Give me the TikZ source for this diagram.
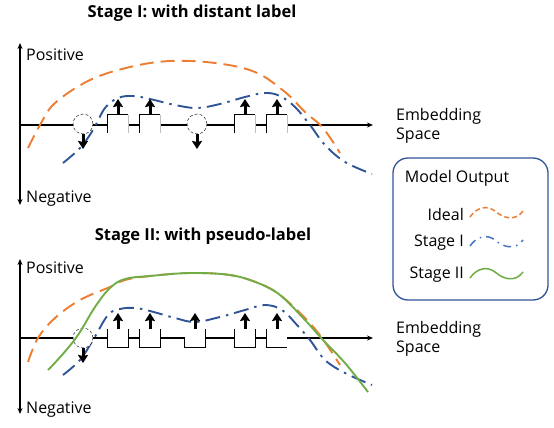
\documentclass[tikz,border=0pt]{standalone}
\usepackage{fontspec}
\setmainfont{Open Sans}
\usepackage{tikz}
\usetikzlibrary{arrows.meta,positioning}
\definecolor{idealorange}{HTML}{ED7D31}
\definecolor{stageblue}{HTML}{2F5597}
\definecolor{legblue}{HTML}{4472C4}
\definecolor{stagegreen}{HTML}{70AD47}

\begin{document}
\begin{tikzpicture}[x=1pt,y=-1pt,>=Stealth,font=\fontsize{16}{19}\selectfont]
	\tikzstyle{every node}=[align=center,inner sep=0pt]
	\tikzstyle{axis}=[line width=1.4pt,{Stealth[length=6pt,width=5pt]}-{Stealth[length=6pt,width=5pt]}]
	\tikzstyle{haxis}=[line width=1.4pt,-{Stealth[length=6pt,width=5pt]}]
	\tikzstyle{title}=[font=\fontsize{16.5}{19}\selectfont\bfseries]
	\tikzstyle{sample}=[circle,minimum size=20pt,draw,densely dashed,thin,fill=white]
	\tikzstyle{bag}=[minimum width=20pt,minimum height=18pt,fill=white]
	\tikzstyle{edge}=[line width=1.1pt]
	\tikzstyle{uparr}=[line width=3pt,-{Stealth[length=8pt,width=10pt,inset=1pt]}]
	\tikzstyle{ideal}=[idealorange,line width=1.9pt,dash pattern=on 14pt off 7pt]
	\tikzstyle{stageone}=[stageblue,line width=1.9pt,dash pattern=on 15pt off 6pt on 2.5pt off 6pt]
	\tikzstyle{stagetwo}=[stagegreen,line width=1.9pt]
	\useasboundingbox (0,0) rectangle (554,428);

	% Stage I
	\node[title] (t1) at (192,13) {Stage I: with distant label};
	\coordinate (v1top) at (20,43);
	\coordinate (v1bot) at (20,205);
	\coordinate (h1l) at (20,125);
	\coordinate (h1r) at (373,125);
	\draw[axis] (v1bot) -- (v1top);
	\draw[haxis] (h1l) -- (h1r);
	\node[anchor=west] (pos1) at (26,55) {Positive};
	\node[anchor=west] (neg1) at (26,199) {Negative};
	\node[anchor=west,align=left] (emb1) at (396,126) {Embedding\\Space};

	\draw[ideal] plot[smooth,tension=0.6] coordinates {(28,148) (40,125) (55,103) (90,80) (130,67) (170,61) (215,63) (255,72) (285,92) (305,112) (323,128) (340,153)};
	\draw[stageone] plot[smooth,tension=0.6] coordinates {(63,163) (80,148) (93,130) (105,108) (118,98) (133,96) (150,99) (175,105) (197,108) (220,104) (245,97) (265,93) (280,96) (295,107) (310,125) (325,145) (345,162) (372,174)};

	\node[sample] (c1a) at (83,124) {};
	\node[sample] (c2a) at (197,124) {};
	\node[bag] (b1a) at (118,124) {};
	\node[bag] (b2a) at (150,124) {};
	\node[bag] (b3a) at (245,124) {};
	\node[bag] (b4a) at (277,124) {};
	\draw[edge] (b1a.south west) -- (b1a.north west) -- (b1a.north east);
	\draw[edge,gray!50] (b1a.north east) -- (b1a.south east);
	\draw[edge] (b2a.south west) -- (b2a.north west) -- (b2a.north east);
	\draw[edge,gray!50] (b2a.north east) -- (b2a.south east);
	\draw[edge] (b3a.south west) -- (b3a.north west) -- (b3a.north east);
	\draw[edge,gray!50] (b3a.north east) -- (b3a.south east);
	\draw[edge] (b4a.south west) -- (b4a.north west) -- (b4a.north east);
	\draw[edge,gray!50] (b4a.north east) -- (b4a.south east);

	\coordinate (u1a) at (118,99);
	\coordinate (u2a) at (150,99);
	\coordinate (u3a) at (245,99);
	\coordinate (u4a) at (277,99);
	\coordinate (d1a) at (83,149);
	\coordinate (d2a) at (197,149);
	\draw[uparr] (b1a) -- (u1a);
	\draw[uparr] (b2a) -- (u2a);
	\draw[uparr] (b3a) -- (u3a);
	\draw[uparr] (b4a) -- (u4a);
	\draw[uparr] (c1a) -- (d1a);
	\draw[uparr] (c2a) -- (d2a);

	% Stage II
	\node[title] (t2) at (203,236) {Stage II: with pseudo-label};
	\coordinate (v2top) at (20,259);
	\coordinate (v2bot) at (20,414);
	\coordinate (h2l) at (20,338);
	\coordinate (h2r) at (373,338);
	\draw[axis] (v2bot) -- (v2top);
	\draw[haxis] (h2l) -- (h2r);
	\node[anchor=west] (pos2) at (26,268) {Positive};
	\node[anchor=west] (neg2) at (26,410) {Negative};
	\node[anchor=west,align=left] (emb2) at (396,339) {Embedding\\Space};

	\draw[ideal] plot[smooth,tension=0.6] coordinates {(28,362) (38,338) (55,318) (80,300) (110,287) (125,280) (150,276) (190,273) (230,275) (258,283) (280,295) (305,318) (322,338) (340,365)};
	\draw[stageone] plot[smooth,tension=0.6] coordinates {(63,375) (80,360) (93,340) (108,315) (120,309) (135,308) (150,311) (175,318) (195,322) (220,317) (245,310) (265,305) (282,310) (297,325) (310,340) (325,360) (345,373) (372,385)};

	\node[sample] (c1b) at (83,338) {};
	\node[bag] (b1b) at (118,338) {};
	\node[bag] (b2b) at (150,338) {};
	\node[bag] (b3b) at (195,338) {};
	\node[bag] (b4b) at (245,338) {};
	\node[bag] (b5b) at (277,338) {};
	\draw[edge] (b1b.north west) -- (b1b.south west) -- (b1b.south east) -- (b1b.north east);
	\draw[edge] (b2b.north west) -- (b2b.south west) -- (b2b.south east) -- (b2b.north east);
	\draw[edge] (b3b.west) -- (b3b.south west) -- (b3b.south east) -- (b3b.north east);
	\draw[edge] (b4b.north west) -- (b4b.south west) -- (b4b.south east) -- (b4b.north east);
	\draw[edge] (b5b.north west) -- (b5b.south west) -- (b5b.south east);

	\draw[stagetwo] plot[smooth,tension=0.6] coordinates {(48,370) (62,355) (78,335) (95,307) (110,288) (125,279) (150,276) (190,273) (230,275) (258,283) (280,295) (305,320) (323,340) (345,363) (368,392)};

	\coordinate (u1b) at (118,313);
	\coordinate (u2b) at (150,313);
	\coordinate (u3b) at (195,313);
	\coordinate (u4b) at (245,313);
	\coordinate (u5b) at (277,313);
	\coordinate (d1b) at (83,363);
	\draw[uparr] (b1b) -- (u1b);
	\draw[uparr] (b2b) -- (u2b);
	\draw[uparr] (b3b) -- (u3b);
	\draw[uparr] (b4b) -- (u4b);
	\draw[uparr] (b5b) -- (u5b);
	\draw[uparr] (c1b) -- (d1b);

	% legend
	\node[draw=stageblue,line width=1.3pt,rounded corners=15pt,minimum width=155pt,minimum height=142pt] (leg) at (470.5,229) {};
	\node (legtitle) at (457,178) {Model Output};
	\node[anchor=east] (lideal) at (464,214) {Ideal};
	\node[anchor=east] (lone) at (464,243) {Stage I};
	\node[anchor=east] (ltwo) at (464,275) {Stage II};
	\draw[ideal,dash pattern=on 5pt off 3pt,line width=1.5pt] (470,217) .. controls (477,207) and (487,205) .. (495,211) .. controls (503,218) and (515,222) .. (523,211);
	\draw[stageone,legblue,dash pattern=on 8pt off 5pt on 1.5pt off 5pt,line width=1.5pt] (470,246) .. controls (477,236) and (487,234) .. (495,240) .. controls (503,247) and (515,251) .. (523,240);
	\draw[stagetwo,line width=1.5pt] (470,278) .. controls (477,268) and (487,266) .. (495,272) .. controls (503,279) and (515,283) .. (523,272);
\end{tikzpicture}
\end{document}
